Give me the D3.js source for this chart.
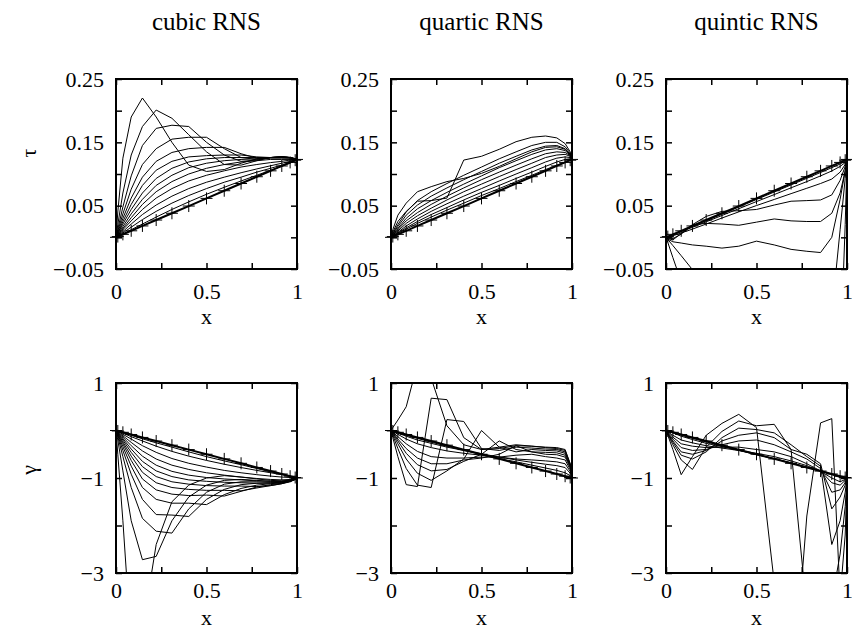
<!DOCTYPE html>
<html><head><meta charset="utf-8">
<script src="https://cdn.jsdelivr.net/npm/d3@7"></script>
<style>
body{margin:0;background:#fff}
svg text{font-family:"Liberation Serif","Times New Roman",serif;fill:#000}
</style>
</head><body>
<svg id="c" width="852" height="632"></svg>
<script>
// ---------- data ----------
const xNodes = [0, 0.010, 0.038, 0.084, 0.146, 0.222, 0.309, 0.402, 0.500, 0.598, 0.691, 0.778, 0.854, 0.916, 0.962, 0.990, 1];

const tauExact   = [0, 0.0012, 0.0047, 0.0103, 0.018, 0.0273, 0.038, 0.0494, 0.0615, 0.0736, 0.085, 0.0957, 0.105, 0.1127, 0.1183, 0.1218, 0.123];
const gammaExact = [0, -0.010, -0.038, -0.084, -0.146, -0.222, -0.309, -0.402, -0.500, -0.598, -0.691, -0.778, -0.854, -0.916, -0.962, -0.990, -1];

const cubicTau = [
  [0, 0.040, 0.125, 0.190, 0.220, 0.190, 0.150, 0.114, 0.104, 0.107, 0.117, 0.124, 0.126, 0.127, 0.126, 0.124, 0.123],
  [0, 0.020, 0.070, 0.130, 0.175, 0.201, 0.188, 0.162, 0.135, 0.115, 0.114, 0.121, 0.126, 0.127, 0.126, 0.124, 0.123],
  [0, 0.013, 0.048, 0.097, 0.145, 0.172, 0.177, 0.175, 0.150, 0.130, 0.120, 0.122, 0.126, 0.127, 0.126, 0.124, 0.123],
  [0, 0.010, 0.037, 0.076, 0.115, 0.140, 0.155, 0.158, 0.158, 0.140, 0.126, 0.123, 0.126, 0.127, 0.126, 0.124, 0.123],
  [0, 0.008, 0.030, 0.062, 0.095, 0.120, 0.134, 0.140, 0.142, 0.142, 0.132, 0.125, 0.126, 0.127, 0.126, 0.124, 0.123],
  [0, 0.006, 0.025, 0.052, 0.082, 0.106, 0.120, 0.127, 0.129, 0.130, 0.130, 0.127, 0.126, 0.127, 0.126, 0.124, 0.123],
  [0, 0.005, 0.021, 0.044, 0.070, 0.093, 0.109, 0.119, 0.124, 0.126, 0.126, 0.126, 0.126, 0.126, 0.125, 0.124, 0.123],
  [0, 0.004, 0.017, 0.037, 0.060, 0.082, 0.098, 0.110, 0.117, 0.121, 0.123, 0.124, 0.125, 0.125, 0.125, 0.124, 0.123],
  [0, 0.0035, 0.014, 0.031, 0.052, 0.072, 0.088, 0.100, 0.109, 0.115, 0.119, 0.121, 0.123, 0.123, 0.123, 0.123, 0.123],
  [0, 0.003, 0.012, 0.026, 0.044, 0.062, 0.077, 0.089, 0.098, 0.105, 0.111, 0.115, 0.118, 0.120, 0.122, 0.123, 0.123],
  [0, 0.0025, 0.009, 0.021, 0.036, 0.051, 0.065, 0.077, 0.087, 0.095, 0.102, 0.108, 0.113, 0.117, 0.120, 0.122, 0.123],
  [0, 0.002, 0.007, 0.016, 0.028, 0.041, 0.054, 0.066, 0.077, 0.087, 0.095, 0.103, 0.109, 0.114, 0.118, 0.121, 0.123],
  [0, 0.0015, 0.0055, 0.012, 0.021, 0.032, 0.044, 0.056, 0.068, 0.079, 0.089, 0.098, 0.106, 0.112, 0.117, 0.121, 0.123]
];

const quarticTau = [
  [0, 0.008, 0.025, 0.041, 0.057, 0.058, 0.062, 0.122, 0.128, 0.139, 0.151, 0.158, 0.160, 0.157, 0.148, 0.135, 0.122],
  [0, 0.012, 0.035, 0.054, 0.072, 0.080, 0.088, 0.093, 0.101, 0.112, 0.124, 0.135, 0.142, 0.143, 0.139, 0.131, 0.122],
  [0, 0.006, 0.020, 0.040, 0.058, 0.072, 0.085, 0.098, 0.111, 0.124, 0.135, 0.145, 0.150, 0.150, 0.143, 0.133, 0.122],
  [0, 0.005, 0.017, 0.035, 0.051, 0.065, 0.078, 0.091, 0.104, 0.117, 0.128, 0.138, 0.144, 0.145, 0.140, 0.131, 0.122],
  [0, 0.004, 0.014, 0.030, 0.045, 0.058, 0.071, 0.084, 0.097, 0.110, 0.121, 0.131, 0.138, 0.140, 0.137, 0.130, 0.122],
  [0, 0.003, 0.012, 0.026, 0.039, 0.052, 0.065, 0.078, 0.091, 0.103, 0.114, 0.124, 0.132, 0.135, 0.134, 0.129, 0.122],
  [0, 0.0025, 0.010, 0.022, 0.034, 0.046, 0.059, 0.072, 0.084, 0.096, 0.107, 0.117, 0.126, 0.130, 0.131, 0.128, 0.122],
  [0, 0.002, 0.008, 0.018, 0.029, 0.041, 0.053, 0.065, 0.077, 0.089, 0.100, 0.110, 0.119, 0.125, 0.127, 0.126, 0.122],
  [0, 0.0018, 0.007, 0.015, 0.025, 0.036, 0.047, 0.059, 0.071, 0.082, 0.093, 0.103, 0.112, 0.119, 0.123, 0.124, 0.122],
  [0, 0.0015, 0.006, 0.013, 0.022, 0.032, 0.043, 0.054, 0.066, 0.077, 0.088, 0.098, 0.107, 0.114, 0.119, 0.122, 0.122]
];

const quinticTau = [
  [0, 0.0011, 0.0045, 0.0098, 0.0172, 0.0262, 0.0366, 0.0478, 0.0598, 0.0716, 0.0828, 0.0932, 0.1024, 0.1100, 0.1158, 0.1200, 0.123],
  [0, 0.0008, 0.0038, 0.0088, 0.0158, 0.0245, 0.0345, 0.0452, 0.0565, 0.0675, 0.0782, 0.0880, 0.0970, 0.1048, 0.1120, 0.1180, 0.123],
  [0, 0.0003, 0.0025, 0.0068, 0.0130, 0.0210, 0.0305, 0.0402, 0.0502, 0.0598, 0.0690, 0.0775, 0.0850, 0.0920, 0.1030, 0.1150, 0.123],
  [0, -0.001, -0.002, 0.005, 0.020, 0.033, 0.041, 0.042, 0.044, 0.051, 0.057, 0.058, 0.059, 0.067, 0.090, 0.112, 0.123],
  [0, -0.002, -0.004, 0.006, 0.020, 0.022, 0.021, 0.019, 0.024, 0.029, 0.026, 0.025, 0.025, 0.038, 0.070, 0.105, 0.123],
  [0, -0.003, -0.007, -0.009, -0.012, -0.014, -0.017, -0.014, -0.006, -0.012, -0.019, -0.022, -0.024, 0.000, 0.060, 0.105, 0.123],
  [0, -0.008, -0.032, -0.070, -0.120, -0.200, -0.250, -0.280, -0.300, -0.300, -0.300, -0.300, -0.300, -0.120, 0.012, 0.093, 0.123],
  [0, -0.0035, -0.013, -0.029, -0.051, -0.080, -0.100, -0.120, -0.140, -0.160, -0.180, -0.200, -0.220, -0.220, -0.200, 0.020, 0.123]
];

const cubicGamma = [
  [0, -0.50, -1.90, -4.50, -4.20, -2.40, -1.50, -1.15, -1.00, -0.95, -0.98, -1.02, -1.05, -1.06, -1.05, -1.02, -1.0],
  [0, -0.20, -0.85, -1.90, -2.72, -2.65, -1.90, -1.40, -1.15, -1.05, -1.03, -1.05, -1.07, -1.07, -1.05, -1.02, -1.0],
  [0, -0.13, -0.55, -1.20, -1.85, -2.12, -2.16, -1.65, -1.30, -1.13, -1.08, -1.08, -1.09, -1.08, -1.05, -1.02, -1.0],
  [0, -0.10, -0.42, -0.92, -1.45, -1.77, -1.78, -1.81, -1.45, -1.24, -1.14, -1.11, -1.10, -1.09, -1.06, -1.02, -1.0],
  [0, -0.08, -0.34, -0.75, -1.20, -1.45, -1.53, -1.53, -1.56, -1.35, -1.22, -1.15, -1.12, -1.10, -1.06, -1.02, -1.0],
  [0, -0.07, -0.28, -0.63, -1.02, -1.25, -1.34, -1.37, -1.36, -1.38, -1.28, -1.19, -1.14, -1.11, -1.07, -1.03, -1.0],
  [0, -0.06, -0.24, -0.54, -0.88, -1.10, -1.20, -1.24, -1.26, -1.26, -1.27, -1.21, -1.16, -1.12, -1.07, -1.03, -1.0],
  [0, -0.05, -0.20, -0.46, -0.76, -0.97, -1.08, -1.13, -1.16, -1.17, -1.17, -1.18, -1.16, -1.12, -1.08, -1.03, -1.0],
  [0, -0.045, -0.17, -0.39, -0.65, -0.85, -0.97, -1.04, -1.07, -1.09, -1.10, -1.11, -1.11, -1.10, -1.07, -1.03, -1.0],
  [0, -0.035, -0.14, -0.32, -0.54, -0.73, -0.86, -0.94, -0.99, -1.02, -1.04, -1.06, -1.07, -1.07, -1.05, -1.02, -1.0],
  [0, -0.03, -0.11, -0.25, -0.43, -0.60, -0.73, -0.82, -0.89, -0.94, -0.98, -1.01, -1.03, -1.04, -1.03, -1.01, -1.0],
  [0, -0.02, -0.08, -0.18, -0.32, -0.46, -0.59, -0.69, -0.77, -0.84, -0.89, -0.93, -0.96, -0.98, -0.99, -1.00, -1.0],
  [0, -0.015, -0.055, -0.13, -0.22, -0.33, -0.44, -0.54, -0.63, -0.71, -0.78, -0.84, -0.89, -0.93, -0.96, -0.99, -1.0],
  [0, -0.012, -0.045, -0.10, -0.175, -0.26, -0.35, -0.45, -0.55, -0.64, -0.72, -0.80, -0.87, -0.92, -0.96, -0.99, -1.0]
];

const quarticGamma = [
  [0, 0.06, 0.22, 0.50, 1.40, 1.10, 0.10, -0.30, -0.40, -0.35, -0.30, -0.33, -0.35, -0.36, -0.40, -0.70, -0.97],
  [0, -0.15, -0.55, -1.14, -1.18, 0.68, 0.65, -0.15, -0.40, -0.38, -0.32, -0.33, -0.36, -0.38, -0.42, -0.70, -0.97],
  [0, -0.10, -0.38, -0.80, -1.15, -1.20, 0.23, 0.19, -0.38, -0.42, -0.35, -0.37, -0.39, -0.40, -0.45, -0.72, -0.97],
  [0, -0.07, -0.28, -0.60, -0.90, -1.05, -0.85, -0.60, 0.00, -0.35, -0.45, -0.40, -0.42, -0.43, -0.48, -0.74, -0.97],
  [0, -0.05, -0.22, -0.48, -0.72, -0.85, -0.82, -0.65, -0.50, -0.22, -0.40, -0.45, -0.46, -0.47, -0.52, -0.76, -0.97],
  [0, -0.04, -0.18, -0.38, -0.58, -0.70, -0.70, -0.62, -0.58, -0.50, -0.32, -0.45, -0.50, -0.51, -0.56, -0.78, -0.97],
  [0, -0.03, -0.13, -0.28, -0.44, -0.55, -0.58, -0.58, -0.56, -0.56, -0.52, -0.50, -0.55, -0.58, -0.62, -0.82, -0.97],
  [0, -0.02, -0.08, -0.18, -0.28, -0.36, -0.43, -0.48, -0.52, -0.56, -0.60, -0.62, -0.64, -0.66, -0.70, -0.86, -0.97],
  [0, -0.015, -0.055, -0.12, -0.20, -0.27, -0.35, -0.42, -0.49, -0.56, -0.62, -0.67, -0.71, -0.74, -0.78, -0.90, -0.97],
  [0, -0.012, -0.045, -0.10, -0.165, -0.245, -0.33, -0.42, -0.51, -0.59, -0.66, -0.73, -0.79, -0.84, -0.89, -0.95, -0.98]
];

const quinticGamma = [
  [0, -0.10, -0.40, -0.93, -0.55, -0.10, 0.15, 0.34, 0.06, -3.20, -6.00, -1.80, 0.16, 0.25, -3.50, -2.20, -1.0],
  [0, -0.08, -0.30, -0.62, -0.82, -0.35, -0.02, 0.20, 0.10, 0.13, -0.40, -3.80, -4.50, -3.60, -2.60, -1.60, -1.0],
  [0, -0.07, -0.25, -0.52, -0.60, -0.45, -0.15, 0.05, 0.02, -0.05, -0.30, -0.55, -0.75, -2.40, -1.90, -1.30, -1.0],
  [0, -0.06, -0.22, -0.45, -0.50, -0.42, -0.22, -0.10, -0.05, -0.15, -0.40, -0.50, -0.70, -1.65, -1.40, -1.15, -1.0],
  [0, -0.05, -0.18, -0.36, -0.42, -0.40, -0.30, -0.22, -0.20, -0.30, -0.45, -0.60, -0.80, -1.30, -1.25, -1.10, -1.0],
  [0, -0.04, -0.14, -0.28, -0.33, -0.36, -0.35, -0.35, -0.40, -0.45, -0.55, -0.70, -0.85, -1.10, -1.15, -1.05, -1.0],
  [0, -0.03, -0.10, -0.20, -0.26, -0.32, -0.37, -0.42, -0.48, -0.55, -0.64, -0.74, -0.86, -1.00, -1.08, -1.03, -1.0],
  [0, -0.015, -0.05, -0.12, -0.19, -0.27, -0.34, -0.42, -0.51, -0.59, -0.68, -0.77, -0.85, -0.93, -0.99, -1.00, -1.0],
  [0, -0.012, -0.045, -0.095, -0.165, -0.24, -0.325, -0.415, -0.505, -0.595, -0.685, -0.775, -0.855, -0.92, -0.965, -0.99, -1.0]
];

const titles = ["cubic RNS", "quartic RNS", "quintic RNS"];
const xTicks = [0, 0.25, 0.5, 0.75, 1];
const xTickLabels = ["0", "", "0.5", "", "1"];
const tauTicks = [0.25, 0.20, 0.15, 0.10, 0.05, 0.00, -0.05];
const tauTickLabels = ["0.25", "", "0.15", "", "0.05", "", "\u22120.05"];
const gammaTicks = [1, 0, -1, -2, -3];
const gammaTickLabels = ["1", "", "\u22121", "", "\u22123"];
const tauDomain = [-0.05, 0.25];
const gammaDomain = [-3, 1];

// ---------- layout ----------
const FONT = '"Liberation Serif","Times New Roman",serif';
const svg = d3.select("#c");
const colX = [116, 391, 666];
const rowY = [79, 383];
const W = 181, H = 190;
const FS = 22;
const xLabelOffset = [55, 52];
const xTickPad = [14, 9];

const panels = [
  {r:0, c:0, curves:cubicTau, exact:tauExact, dom:tauDomain, ticks:tauTicks, labels:tauTickLabels},
  {r:0, c:1, curves:quarticTau, exact:tauExact, dom:tauDomain, ticks:tauTicks, labels:tauTickLabels},
  {r:0, c:2, curves:quinticTau, exact:tauExact, dom:tauDomain, ticks:tauTicks, labels:tauTickLabels},
  {r:1, c:0, curves:cubicGamma, exact:gammaExact, dom:gammaDomain, ticks:gammaTicks, labels:gammaTickLabels},
  {r:1, c:1, curves:quarticGamma, exact:gammaExact, dom:gammaDomain, ticks:gammaTicks, labels:gammaTickLabels},
  {r:1, c:2, curves:quinticGamma, exact:gammaExact, dom:gammaDomain, ticks:gammaTicks, labels:gammaTickLabels}
];

const defs = svg.append("defs");

panels.forEach((p, k) => {
  const g = svg.append("g").attr("transform", `translate(${colX[p.c]},${rowY[p.r]})`);
  const x = d3.scaleLinear().domain([0, 1]).range([0, W]);
  const y = d3.scaleLinear().domain(p.dom).range([H, 0]);
  const id = "clip" + k;
  defs.append("clipPath").attr("id", id).append("rect").attr("width", W).attr("height", H);

  const line = d3.line().x((d, i) => x(xNodes[i])).y(d => y(d));
  const lg = g.append("g").attr("clip-path", `url(#${id})`);
  lg.selectAll("path.c").data(p.curves).join("path")
    .attr("d", line).attr("fill", "none").attr("stroke", "#000").attr("stroke-width", 1)
    .attr("stroke-linejoin", "miter");
  lg.append("path").attr("d", line(p.exact)).attr("fill", "none")
    .attr("stroke", "#000").attr("stroke-width", 2);

  // markers (+)
  g.selectAll("path.m").data(p.exact).join("path")
    .attr("d", (d, i) => {
      const cx = x(xNodes[i]), cy = y(d);
      return `M${cx - 6},${cy}h12M${cx},${cy - 6}v12`;
    })
    .attr("stroke", "#000").attr("stroke-width", 1).attr("fill", "none");

  // axes with inward ticks
  const styleAxis = sel => {
    sel.select(".domain").remove();
    sel.selectAll(".tick line").attr("stroke", "#000").attr("stroke-width", 1.5);
    sel.selectAll("text").attr("font-size", FS).style("font-family", FONT).attr("fill", "#000");
    sel.attr("font-family", null).attr("font-size", null);
  };
  g.append("g").attr("transform", `translate(0,${H})`)
    .call(d3.axisBottom(x).tickValues(xTicks).tickSize(-6).tickPadding(xTickPad[p.r]).tickFormat((d, i) => xTickLabels[i]))
    .call(styleAxis);
  g.append("g")
    .call(d3.axisTop(x).tickValues(xTicks).tickSize(-6).tickFormat(""))
    .call(styleAxis);
  g.append("g")
    .call(d3.axisLeft(y).tickValues(p.ticks).tickSize(-6).tickPadding(12).tickFormat((d, i) => p.labels[i]))
    .call(styleAxis);
  g.append("g").attr("transform", `translate(${W},0)`)
    .call(d3.axisRight(y).tickValues(p.ticks).tickSize(-6).tickFormat(""))
    .call(styleAxis);

  g.append("rect").attr("width", W).attr("height", H).attr("fill", "none")
    .attr("stroke", "#000").attr("stroke-width", 2);

  // x label
  g.append("text").attr("x", W / 2).attr("y", H + xLabelOffset[p.r]).attr("text-anchor", "middle")
    .attr("font-size", FS).style("font-family", FONT).text("x");

  if (p.r === 0) {
    g.append("text").attr("x", W / 2).attr("y", -49).attr("text-anchor", "middle")
      .attr("font-size", 25).style("font-family", FONT).text(titles[p.c]);
  }
});

// y labels
svg.append("text").attr("transform", "translate(36,153) rotate(-90)").attr("text-anchor", "middle")
  .attr("font-size", FS).style("font-family", FONT).text("τ");
svg.append("text").attr("transform", "translate(36,470) rotate(-90)").attr("text-anchor", "middle")
  .attr("font-size", FS).style("font-family", FONT).text("γ");
</script>
</body></html>
